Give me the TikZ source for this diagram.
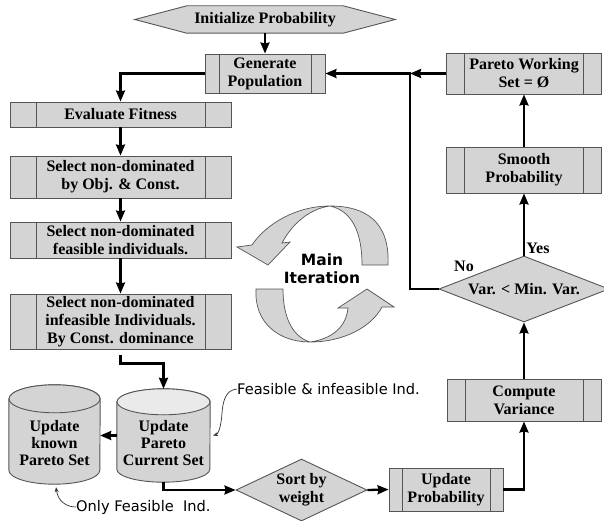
\documentclass[tikz,border=0pt]{standalone}
\usepackage{fontspec}
\setmainfont{Liberation Serif}
\newfontfamily\dejavu{DejaVu Sans}
\usetikzlibrary{arrows.meta,shapes.geometric,backgrounds,calc}
\definecolor{boxgray}{RGB}{212,212,212}
\definecolor{edgegray}{RGB}{85,85,85}
\definecolor{topgray}{RGB}{234,234,234}
\tikzset{
  txt/.style={font=\bfseries\fontsize{16}{18}\selectfont, align=center},
  proc/.style={txt, rectangle, draw=edgegray, fill=boxgray, line width=0.9pt, inner sep=0pt,
    path picture={\draw[edgegray, line width=0.9pt]
      ([xshift=#1]path picture bounding box.north west) -- ([xshift=#1]path picture bounding box.south west)
      ([xshift=-#1]path picture bounding box.north east) -- ([xshift=-#1]path picture bounding box.south east);}},
  dia/.style={txt, diamond, draw=edgegray, fill=boxgray, line width=0.9pt, inner sep=0pt},
  cylbox/.style={inner sep=0pt},
  cyltxt/.style={font=\bfseries\fontsize{16}{17}\selectfont, align=center},
  shapeline/.style={draw=edgegray, line width=0.9pt},
  arr/.style={line width=2.3pt, -{Stealth[length=11pt,width=9pt,inset=1pt]}},
  note/.style={line width=0.7pt, black!80, -{Stealth[length=5pt,width=4pt]}},
  notetxt/.style={font=\dejavu\fontsize{14.6}{16}\selectfont, inner sep=0pt, anchor=west},
  ribbon/.style={fill=boxgray, draw=edgegray, line width=0.7pt},
}
\begin{document}
\begin{tikzpicture}[x=1pt,y=-1pt]
\useasboundingbox (0,0) rectangle (604,521);

% Initialize Probability
\node[txt, minimum width=156pt, minimum height=27pt, inner sep=0pt] (init) at (265,19.5) {Initialize Probability};
\begin{scope}[on background layer]
  \path[shapeline, fill=boxgray] (init.north west) -- (init.north east) -- ([xshift=52pt]init.east)
    -- (init.south east) -- (init.south west) -- ([xshift=-52pt]init.west) -- cycle;
\end{scope}

% Process boxes
\node[proc=14pt, minimum width=120pt, minimum height=39pt] (gen) at (265,73.5) {Generate\\Population};
\node[proc=26pt, minimum width=221pt, minimum height=25pt] (eval) at (120.5,114.5) {Evaluate Fitness};
\node[proc=26pt, minimum width=221pt, minimum height=42pt] (sel1) at (120.5,177) {Select non-dominated\\by Obj. \& Const.};
\node[proc=26pt, minimum width=221pt, minimum height=36pt] (sel2) at (120.5,240) {Select non-dominated\\feasible individuals.};
\node[proc=26pt, minimum width=221pt, minimum height=55pt] (sel3) at (120.5,321.5) {Select non-dominated\\infeasible Individuals.\\By Const. dominance};

\node[proc=18pt, minimum width=155pt, minimum height=41pt] (pwork) at (524,73.5) {Pareto Working\\Set = Ø};
\node[proc=18pt, minimum width=155pt, minimum height=46pt] (smooth) at (524,170) {Smooth\\Probability};
\node[dia, minimum width=170pt, minimum height=66pt, aspect=2.6] (vardia) at (524,289) {Var. < Min. Var.};
\node[proc=18pt, minimum width=154pt, minimum height=42pt] (compvar) at (524,400) {Compute\\Variance};
\node[proc=13pt, minimum width=114pt, minimum height=43pt] (upd) at (446,489.5) {Update\\Probability};
\node[dia, minimum width=131pt, minimum height=62pt, aspect=2.1] (sort) at (301.5,490) {Sort by\\weight};

% Cylinders
\node[cylbox, minimum width=91pt, minimum height=99pt] (lcyl) at (54.5,434.5) {};
\node[cylbox, minimum width=93pt, minimum height=93pt] (rcyl) at (163.5,435.5) {};
\path[shapeline, fill=boxgray] ([yshift=-14pt]lcyl.north west) -- ([yshift=14pt]lcyl.south west)
  arc[start angle=180, end angle=360, x radius=45.5pt, y radius=14pt]
  -- ([yshift=-14pt]lcyl.north east)
  arc[start angle=0, end angle=180, x radius=45.5pt, y radius=14pt] -- cycle;
\path[shapeline, fill=boxgray] ([yshift=-14pt]lcyl.north) ellipse[x radius=45.5pt, y radius=14pt];
\path[shapeline, fill=boxgray] ([yshift=-13pt]rcyl.north west) -- ([yshift=13pt]rcyl.south west)
  arc[start angle=180, end angle=360, x radius=46.5pt, y radius=13pt]
  -- ([yshift=-13pt]rcyl.north east)
  arc[start angle=0, end angle=180, x radius=46.5pt, y radius=13pt] -- cycle;
\path[shapeline, fill=topgray] ([yshift=-13pt]rcyl.north) ellipse[x radius=46.5pt, y radius=13pt];
\node[cyltxt] (lcyltxt) at (54.5,443) {Update\\known\\Pareto Set};
\node[cyltxt] (rcyltxt) at (163.5,443) {Update\\Pareto\\Current Set};

% Main iteration ribbons
\path[ribbon] (362,265) -- (388,265) .. controls (390,222) and (366,206) .. (330,206)
  .. controls (296,206) and (266,224) .. (252,245) -- (237,247) -- (268,265) -- (290,242) -- (282,243)
  .. controls (292,224) and (309,209) .. (330,206)
  .. controls (352,211) and (362,232) .. cycle;
\path[ribbon] (283,289) -- (256,289) .. controls (254,324) and (280,342) .. (310,342)
  .. controls (345,342) and (372,326) .. (382,307) -- (394,307) -- (367,289) -- (338,308) -- (348,308)
  .. controls (346,328) and (331,339) .. (310,342)
  .. controls (291,336) and (283,315) .. cycle;
\node[font=\dejavu\bfseries\fontsize{15.5}{18}\selectfont, align=center] (mainit) at (322,269) {Main\\Iteration};

% Labels
\node[txt] (yes) at (538,248) {Yes};
\node[txt] (no) at (464,266) {No};

% Notes
\node[notetxt] (fnote) at (237,389) {Feasible \& infeasible Ind.};
\node[notetxt] (onote) at (76,507) {Only Feasible\ \ Ind.};
\draw[note] (fnote.west) .. controls (226,390) and (223,400) .. (222,413)
  .. controls (221,428) and (218,434) .. ([xshift=3pt]rcyl.east);
\draw[note] (onote.west) .. controls (66,507) and (58,501) .. ([shift={(1.5,3)}]lcyl.south);

% Connectors
\coordinate (jn) at (410,73.5);
\draw[arr] (init.south) -- (gen.north);
\draw[arr] (gen.west) -| (eval.north);
\draw[arr] (eval.south) -- (sel1.north);
\draw[arr] (sel1.south) -- (sel2.north);
\draw[arr] (sel2.south) -- (sel3.north);
\draw[arr, shorten <=6pt] (sel3.south) -- ++(0,14) -| (rcyl.north);
\draw[arr] (rcyl.west) -- (rcyl.west -| lcyl.east);
\draw[arr] (rcyl.south) |- (sort.west);
\draw[arr] (sort.east) -- (upd.west);
\draw[arr] (upd.east) -| (compvar.south);
\draw[arr] (compvar.north) -- (vardia.south);
\draw[arr] (vardia.north) -- (smooth.south);
\draw[arr] (smooth.north) -- (pwork.south);
\draw[arr] (pwork.west) -- (jn);
\draw[arr] (vardia.west) -| (jn) -- (gen.east);
\end{tikzpicture}
\end{document}
